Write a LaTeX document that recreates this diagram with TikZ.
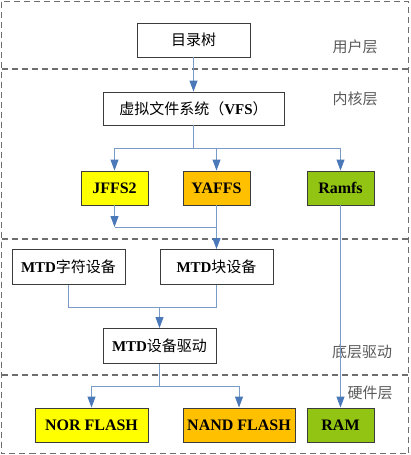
\documentclass[tikz,border=0pt]{standalone}
\usepackage{fontspec}
\setmainfont{Liberation Serif}
\newfontfamily\cjk{Noto Sans CJK SC}
\usetikzlibrary{arrows.meta}
\definecolor{linec}{RGB}{120,155,200}
\definecolor{tipc}{RGB}{75,120,185}
\definecolor{dashc}{RGB}{110,110,110}
\definecolor{yel}{RGB}{255,255,0}
\definecolor{ora}{RGB}{255,192,0}
\definecolor{grn}{RGB}{146,196,20}
\definecolor{edgec}{RGB}{60,60,60}
\definecolor{labc}{RGB}{90,90,90}
\begin{document}
\begin{tikzpicture}[x=1pt,y=-1pt,
  box/.style={draw=edgec,line width=0.9pt,minimum height=34pt,inner sep=0pt,font=\fontsize{15}{17}\selectfont},
  wbox/.style={box,fill=white,minimum width=113pt},
  fsbox/.style={box,minimum width=67pt,font=\fontsize{16}{18}\selectfont\bfseries},
  flbox/.style={box,minimum width=113pt,font=\fontsize{16}{18}\selectfont\bfseries},
  layer/.style={draw=dashc,line width=1.4pt,dash pattern=on 6pt off 4pt},
  lab/.style={text=labc,font=\cjk\fontsize{15}{17}\selectfont,inner sep=0pt},
  conn/.style={draw=linec,line width=1pt},
  arr/.style={conn,-{Triangle[length=11pt,width=8pt,fill=tipc,color=tipc]}}]
\useasboundingbox (0,0) rectangle (410,455);
% layers
\draw[layer] (1.5,1.5) rectangle (408.5,453.5);
\draw[layer] (1.5,69) -- (408.5,69);
\draw[layer] (1.5,239) -- (408.5,239);
\draw[layer] (1.5,375) -- (408.5,375);
\node[lab] (l1) at (355,47) {用户层};
\node[lab] (l2) at (355,99) {内核层};
\node[lab] (l3) at (362,352) {底层驱动};
\node[lab] (l4) at (370,393) {硬件层};
% nodes
\node[wbox] (ml) at (193.5,40) {\cjk 目录树};
\node[box,minimum width=181pt,minimum height=33pt] (vfs) at (193.5,108.5) {{\cjk 虚拟文件系统（}{\bfseries VFS}{\cjk ）}};
\node[fsbox,fill=yel] (jffs) at (114.5,188) {JFFS2};
\node[fsbox,fill=ora] (yaffs) at (216.5,188) {YAFFS};
\node[fsbox,fill=grn] (ramfs) at (340.5,188) {Ramfs};
\node[wbox,minimum height=35pt] (mtdc) at (68.5,267) {{\bfseries MTD}{\cjk 字符设备}};
\node[wbox,minimum height=35pt] (mtdb) at (216.5,267) {{\bfseries MTD}{\cjk 块设备}};
\node[wbox,minimum height=35pt] (mtdd) at (159.5,346) {{\bfseries MTD}{\cjk 设备驱动}};
\node[flbox,fill=yel] (nor) at (91.5,425) {NOR FLASH};
\node[flbox,fill=ora,minimum width=112pt] (nand) at (239,425) {NAND FLASH};
\node[fsbox,fill=grn] (ram) at (340.5,425) {RAM};
% connectors
\coordinate (b1) at (193.5,148);
\coordinate (j1) at (216.5,227);
\coordinate (m1) at (159.5,307);
\coordinate (d1) at (159.5,386);
\draw[arr] (ml) -- (vfs);
\draw[conn] (vfs) -- (b1);
\draw[arr] (b1) -| (jffs.north);
\draw[arr] (b1) -| (yaffs.north);
\draw[arr] (b1) -| (ramfs.north);
\draw[arr] (jffs.south) -- (jffs.south |- j1);
\draw[conn] (jffs.south |- j1) -- (j1);
\draw[arr] (yaffs) -- (mtdb);
\draw[arr] (ramfs) -- (ram);
\draw[conn] (mtdc.south) |- (m1);
\draw[conn] (mtdb.south) |- (m1);
\draw[arr] (m1) -- (mtdd);
\draw[conn] (mtdd) -- (d1);
\draw[arr] (d1) -| (nor.north);
\draw[arr] (d1) -| (nand.north);
\end{tikzpicture}
\end{document}
